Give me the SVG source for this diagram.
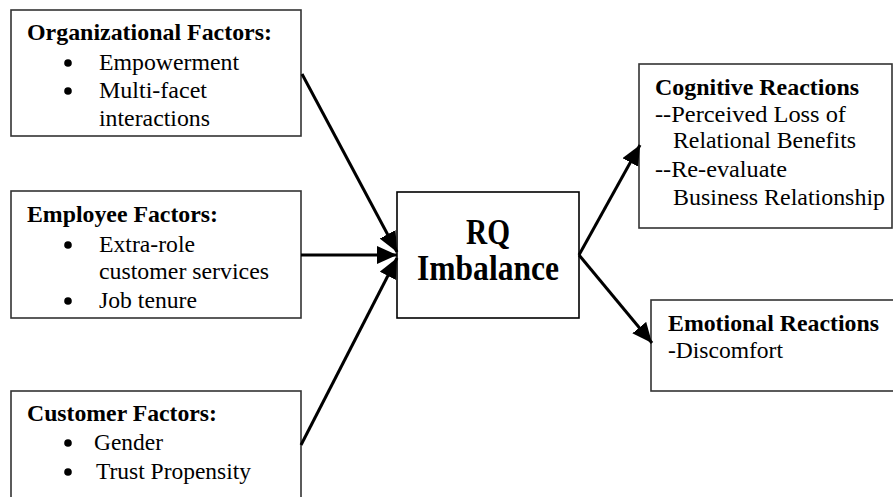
<svg xmlns="http://www.w3.org/2000/svg" width="893" height="497" viewBox="0 0 893 497">
<style>
.box{fill:#fff;stroke:#333;stroke-width:1.6}
.t{font-family:"Liberation Serif","Times New Roman",serif;font-size:24px;fill:#000}
.b{font-weight:bold;font-size:23px}
.big{font-family:"Liberation Serif","Times New Roman",serif;font-size:35px;font-weight:bold;text-anchor:middle}
.dot{fill:#000}
.edge{stroke:#000;stroke-width:3;fill:none;marker-end:url(#ah)}
</style>
<defs>
<marker id="ah" markerUnits="userSpaceOnUse" markerWidth="22" markerHeight="20" refX="20" refY="9" orient="auto">
<path d="M0,0 L20,9 L0,18 z" fill="#000"/>
</marker>
</defs>
<rect width="893" height="497" fill="#fff"/>
<g id="org">
<rect class="box" x="11" y="10" width="290" height="126"/>
<text class="t b" x="27" y="40" textLength="245" lengthAdjust="spacingAndGlyphs">Organizational Factors:</text>
<circle class="dot" cx="68" cy="63" r="3.8"/>
<text class="t" x="99" y="70" textLength="140" lengthAdjust="spacingAndGlyphs">Empowerment</text>
<circle class="dot" cx="68" cy="91" r="3.8"/>
<text class="t" x="99" y="98" textLength="108" lengthAdjust="spacingAndGlyphs">Multi-facet</text>
<text class="t" x="99" y="126" textLength="111" lengthAdjust="spacingAndGlyphs">interactions</text>
</g>
<g id="emp">
<rect class="box" x="11" y="191" width="290" height="127"/>
<text class="t b" x="27" y="222" textLength="191" lengthAdjust="spacingAndGlyphs">Employee Factors:</text>
<circle class="dot" cx="68" cy="245" r="3.8"/>
<text class="t" x="99" y="252" textLength="96" lengthAdjust="spacingAndGlyphs">Extra-role</text>
<text class="t" x="99" y="279" textLength="170" lengthAdjust="spacingAndGlyphs">customer services</text>
<circle class="dot" cx="68" cy="301" r="3.8"/>
<text class="t" x="99" y="308" textLength="98" lengthAdjust="spacingAndGlyphs">Job tenure</text>
</g>
<g id="cust">
<rect class="box" x="11" y="391" width="290" height="120"/>
<text class="t b" x="27" y="421" textLength="190" lengthAdjust="spacingAndGlyphs">Customer Factors:</text>
<circle class="dot" cx="68" cy="443" r="3.8"/>
<text class="t" x="94" y="450" textLength="69" lengthAdjust="spacingAndGlyphs">Gender</text>
<circle class="dot" cx="68" cy="472" r="3.8"/>
<text class="t" x="96" y="479" textLength="155" lengthAdjust="spacingAndGlyphs">Trust Propensity</text>
</g>
<g id="rq">
<rect x="397" y="192" width="182" height="126" fill="#fff" stroke="#000" stroke-width="1.6"/>
<text class="big" x="488" y="244" textLength="44" lengthAdjust="spacingAndGlyphs">RQ</text>
<text class="big" x="488" y="280" textLength="142" lengthAdjust="spacingAndGlyphs">Imbalance</text>
</g>
<g id="cog">
<rect class="box" x="639" y="64" width="253" height="164"/>
<text class="t b" x="655" y="95" textLength="204" lengthAdjust="spacingAndGlyphs">Cognitive Reactions</text>
<text class="t" x="655" y="122" textLength="191" lengthAdjust="spacingAndGlyphs">--Perceived Loss of</text>
<text class="t" x="673" y="148" textLength="183" lengthAdjust="spacingAndGlyphs">Relational Benefits</text>
<text class="t" x="655" y="177" textLength="132" lengthAdjust="spacingAndGlyphs">--Re-evaluate</text>
<text class="t" x="673" y="205" textLength="212" lengthAdjust="spacingAndGlyphs">Business Relationship</text>
</g>
<g id="emo">
<rect class="box" x="651" y="300" width="250" height="91"/>
<text class="t b" x="668" y="331" textLength="211" lengthAdjust="spacingAndGlyphs">Emotional Reactions</text>
<text class="t" x="668" y="358" textLength="115" lengthAdjust="spacingAndGlyphs">-Discomfort</text>
</g>
<g id="connectors">
<line class="edge" x1="302" y1="74" x2="397" y2="252"/>
<line class="edge" x1="301" y1="255" x2="397" y2="255"/>
<line class="edge" x1="301" y1="445" x2="397" y2="258"/>
<line class="edge" x1="579" y1="255" x2="640" y2="145"/>
<line class="edge" x1="579" y1="255" x2="652" y2="343"/>
</g>
</svg>
